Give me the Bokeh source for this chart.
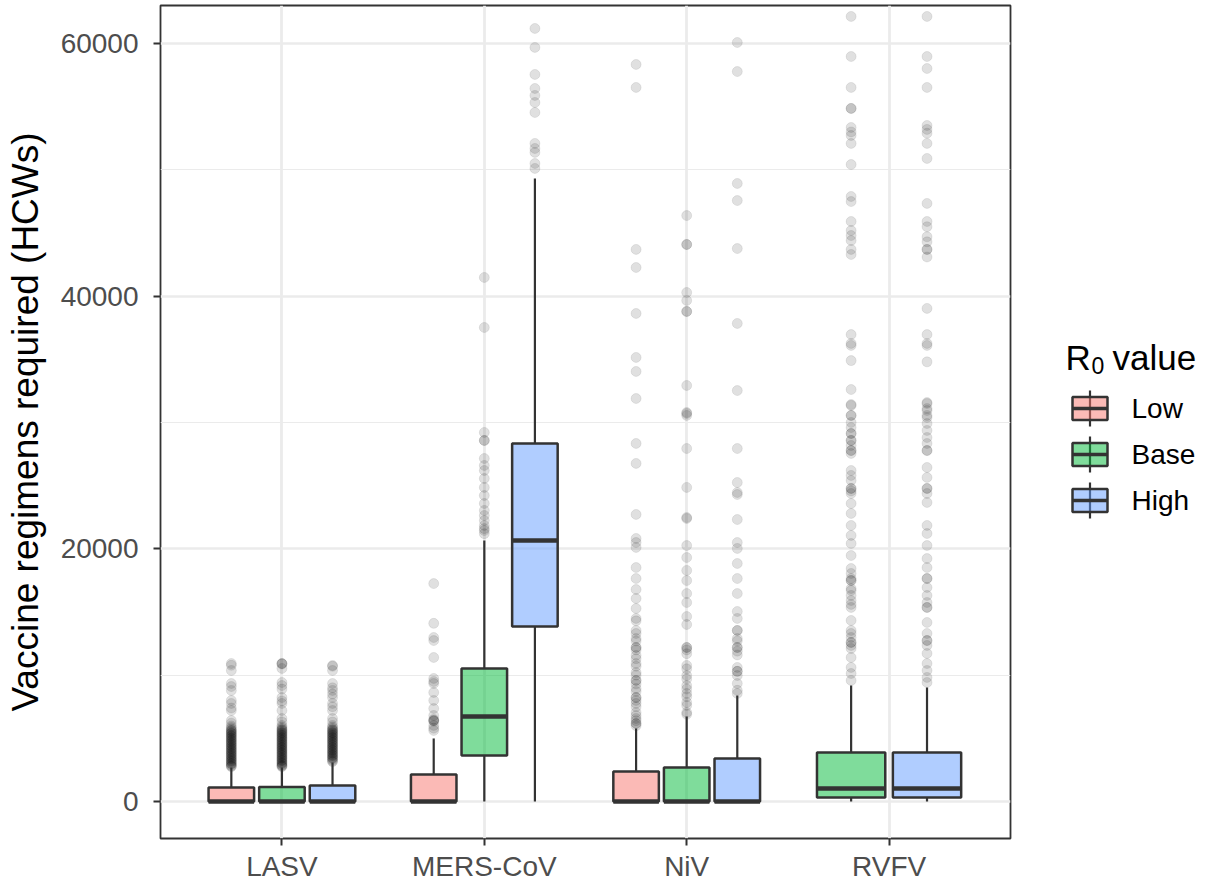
from bokeh.plotting import figure
from bokeh.models import Range1d, FixedTicker, ColumnDataSource
from bokeh.layouts import row
from bokeh.embed import file_html
from bokeh.resources import INLINE
from bokeh.core.properties import value

# ---------------- data ----------------
categories = ["LASV", "MERS-CoV", "NiV", "RVFV"]
groups = ["Low", "Base", "High"]
y_ticks = [0, 20000, 40000, 60000]
y_minor_ticks = [10000, 30000, 50000]
y_title = "Vaccine regimens required (HCWs)"
legend_title_main = "R"
legend_title_sub = "0"
legend_title_rest = "value"

# box statistics, one entry per category (None = group not present)
low_lower = [0, 0, 0, None]
low_q1 = [0, 0, 0, None]
low_median = [0, 0, 0, None]
low_q3 = [1110, 2140, 2380, None]
low_upper = [2690, 4990, 5780, None]

base_lower = [0, 0, 0, 0]
base_q1 = [0, 3640, 0, 320]
base_median = [0, 6730, 0, 1030]
base_q3 = [1150, 10530, 2690, 3880]
base_upper = [2700, 20660, 6730, 9180]

high_lower = [0, 0, 0, 0]
high_q1 = [0, 13850, 0, 320]
high_median = [0, 20660, 0, 1030]
high_q3 = [1270, 28340, 3400, 3880]
high_upper = [3090, 49320, 8390, 9020]

low_outliers = [
    [10920, 10780, 10370, 9340, 9100, 8790, 8000, 7760, 7400, 7200, 6410, 6200, 5980, 5860,
     5750, 5650, 5550, 5450, 5350, 5250, 5150, 5050, 4950, 4850, 4750, 4650, 4550, 4450,
     4350, 4250, 4150, 4050, 3950, 3850, 3750, 3650, 3550, 3450, 3350, 3250, 3150, 3050,
     2950, 2850, 2750, 5600, 5400, 5200, 5000, 4800, 4600, 4400, 4200, 4000, 3800, 3600,
     3400, 3200, 3000, 2800],
    [17250, 14100, 12980, 12740, 11400, 9740, 9500, 9340, 8630, 8000, 7360, 6810, 6500,
     6410, 6410, 6350, 6020, 5800, 5620],
    [58340, 56520, 43700, 42270, 38630, 35150, 34040, 31900, 28340, 26760, 22720, 20820,
     20500, 20110, 18520, 17650, 16780, 16070, 15280, 14490, 14300, 13540, 13300, 12900,
     12700, 12190, 12190, 12000, 11560, 11300, 10920, 10700, 10210, 10000, 9580, 9580, 9300,
     8940, 8700, 8230, 8230, 8000, 7760, 7500, 7050, 6800, 6570, 6400, 6170, 6170, 6000],
    [],
]
base_outliers = [
    [10920, 10920, 10880, 10530, 9420, 9180, 8900, 8230, 7960, 7760, 7200, 6570, 6300, 6020,
     5900, 5800, 5700, 5600, 5500, 5400, 5300, 5200, 5100, 5000, 4900, 4800, 4700, 4600,
     4500, 4400, 4300, 4200, 4100, 4000, 3900, 3800, 3700, 3600, 3500, 3400, 3300, 3200,
     3100, 3000, 2900, 2800, 2750, 5650, 5450, 5250, 5050, 4850, 4650, 4450, 4250, 4050,
     3850, 3650, 3450, 3250, 3050, 2850],
    [41480, 37520, 29210, 28580, 28580, 27150, 26600, 26200, 25570, 24860, 24220, 23590,
     23040, 22640, 22240, 21850, 21600, 21450, 21200],
    [46380, 44090, 44090, 40290, 39660, 38790, 38790, 32930, 30790, 30710, 30560, 27940,
     24860, 22480, 22400, 20260, 19310, 18290, 17490, 16460, 15750, 14640, 14010, 12190,
     12190, 12000, 11700, 10770, 10500, 9970, 9700, 9180, 8900, 8550, 8300, 7840, 7600,
     7050, 6900],
    [62140, 58970, 56520, 54860, 54860, 53350, 53000, 52720, 52090, 50420, 47890, 47490,
     45910, 45200, 44800, 44400, 43700, 43300, 36960, 36260, 36100, 34900, 32610, 31420,
     31350, 30560, 30560, 30000, 29600, 29130, 29130, 28580, 28580, 28180, 27780, 27780,
     27550, 26200, 25810, 25410, 24780, 24780, 24580, 24380, 23590, 22800, 21850, 21060,
     20420, 19470, 18440, 18050, 17650, 17490, 17490, 16860, 16700, 16310, 15910, 15600,
     15360, 14330, 13540, 13300, 12980, 12590, 12590, 12350, 12110, 11400, 10610, 10130,
     9580],
]
high_outliers = [
    [10770, 10700, 10370, 9340, 9000, 8790, 8500, 8230, 7760, 7500, 7200, 6570, 6300, 6020,
     5900, 5800, 5700, 5600, 5500, 5400, 5300, 5200, 5100, 5000, 4900, 4800, 4700, 4600,
     4500, 4400, 4300, 4200, 4100, 4000, 3900, 3800, 3700, 3600, 3500, 3400, 3300, 3200,
     3150, 5650, 5450, 5250, 5050, 4850, 4650, 4450, 4250, 4050, 3850, 3650, 3450],
    [61190, 59690, 57550, 56440, 55890, 55330, 54540, 52090, 51690, 51380, 50500, 50110],
    [60080, 57780, 48920, 47570, 43770, 37840, 32530, 27940, 25250, 24460, 24300, 22320,
     20500, 20030, 18840, 17650, 16460, 15040, 14490, 13540, 13540, 12900, 12700, 12190,
     12190, 11900, 11600, 10610, 10300, 10300, 9970, 9340, 8800, 8550],
    [62140, 58970, 58020, 56520, 53510, 53200, 52900, 52090, 50900, 47340, 45910, 45500,
     44700, 44300, 43700, 43700, 43100, 39030, 36960, 36260, 36100, 34800, 31580, 31500,
     31100, 30950, 30560, 30400, 29920, 29370, 28810, 28340, 27780, 27780, 26440, 25650,
     24780, 24780, 24380, 23670, 21850, 21210, 20260, 19230, 18520, 17650, 17650, 16940,
     16310, 15750, 15360, 15360, 14170, 13300, 12740, 12740, 12350, 11720, 10920, 10370,
     9820, 9420],
]

stats = [
    dict(lower=low_lower, q1=low_q1, med=low_median, q3=low_q3, upper=low_upper, out=low_outliers),
    dict(lower=base_lower, q1=base_q1, med=base_median, q3=base_q3, upper=base_upper, out=base_outliers),
    dict(lower=high_lower, q1=high_q1, med=high_median, q3=high_q3, upper=high_upper, out=high_outliers),
]
group_colors = ["#F8766D", "#00BA38", "#619CFF"]

# ---------------- styles ----------------
FONT_NAME = "Liberation Sans"
FONT = value(FONT_NAME)
DARK = "#333333"
GRID = "#EBEBEB"
DODGE = 0.75
PAD = 0.1
FRAME_TOP, FRAME_BOTTOM = 5, 838

# ---------------- main plot ----------------
p = figure(width=1012, height=888,
           x_range=Range1d(0.4, 4.6), y_range=Range1d(-2929, 63008),
           output_backend="svg", toolbar_location=None,
           min_border_left=160, min_border_right=2, min_border_top=FRAME_TOP,
           min_border_bottom=888 - FRAME_BOTTOM)
p.background_fill_color = "white"
p.border_fill_color = "white"
p.outline_line_color = DARK
p.outline_line_width = 1.8

ox, oy = [], []
box = dict(left=[], right=[], top=[], bottom=[], fill=[])
meds = dict(x0=[], x1=[], y=[])
whisk = dict(x=[], y0=[], y1=[])
for i in range(len(categories)):
    present = [k for k in range(len(groups)) if stats[k]["q3"][i] is not None]
    n = len(present)
    slot = DODGE / n
    for j, k in enumerate(present):
        s = stats[k]
        xc = (i + 1) - DODGE / 2 + slot * (j + 0.5)
        half = slot * (1 - PAD) / 2
        box["left"].append(xc - half)
        box["right"].append(xc + half)
        box["top"].append(s["q3"][i])
        box["bottom"].append(s["q1"][i])
        box["fill"].append(group_colors[k])
        meds["x0"].append(xc - half)
        meds["x1"].append(xc + half)
        meds["y"].append(s["med"][i])
        whisk["x"] += [xc, xc]
        whisk["y0"] += [s["q3"][i], s["q1"][i]]
        whisk["y1"] += [s["upper"][i], s["lower"][i]]
        for v in s["out"][i]:
            ox.append(xc)
            oy.append(v)

p.scatter(x=ox, y=oy, size=10, marker="circle",
          fill_color="black", fill_alpha=0.12, line_color="black", line_alpha=0.08, line_width=1)
p.segment(x0="x", y0="y0", x1="x", y1="y1", source=ColumnDataSource(whisk),
          line_color=DARK, line_width=2.2)
p.quad(left="left", right="right", top="top", bottom="bottom",
       source=ColumnDataSource(box), fill_color="fill", fill_alpha=0.5,
       line_color=DARK, line_width=2.5)
p.segment(x0="x0", y0="y", x1="x1", y1="y", source=ColumnDataSource(meds),
          line_color=DARK, line_width=4.5)

p.xaxis.ticker = FixedTicker(ticks=list(range(1, len(categories) + 1)))
p.xaxis.major_label_overrides = {i + 1: c for i, c in enumerate(categories)}
p.yaxis.ticker = FixedTicker(ticks=y_ticks, minor_ticks=y_minor_ticks)
p.yaxis.major_label_overrides = {t: str(t) for t in y_ticks}
for ax in p.axis:
    ax.axis_line_color = None
    ax.major_tick_line_color = DARK
    ax.major_tick_line_width = 2
    ax.major_tick_out = 7
    ax.major_tick_in = 0
    ax.minor_tick_line_color = None
    ax.major_label_text_font = FONT_NAME
    ax.major_label_text_font_size = "28px"
    ax.major_label_text_color = "#4D4D4D"
p.xaxis.major_label_standoff = 5
p.yaxis.major_label_standoff = 15
p.yaxis.axis_label = y_title
p.yaxis.axis_label_text_font = FONT_NAME
p.yaxis.axis_label_text_font_size = "37px"
p.yaxis.axis_label_text_font_style = "normal"
p.yaxis.axis_label_text_color = "black"
p.yaxis.axis_label_standoff = 12

p.xgrid.grid_line_color = GRID
p.xgrid.grid_line_width = 2.8
p.ygrid.grid_line_color = GRID
p.ygrid.grid_line_width = 2.5
p.ygrid.minor_grid_line_color = GRID
p.ygrid.minor_grid_line_width = 1.2

# ---------------- legend panel ----------------
# the row layout aligns this panel's frame with the main frame (FRAME_TOP..FRAME_BOTTOM),
# so the y range is set to those pixel rows for a 1:1 mapping
leg = figure(width=202, height=888, x_range=Range1d(0, 202),
             y_range=Range1d(FRAME_BOTTOM, FRAME_TOP),
             output_backend="svg", toolbar_location=None, min_border=0,
             x_axis_type=None, y_axis_type=None)
leg.outline_line_color = None
leg.background_fill_color = "white"
leg.border_fill_color = "white"
for g in leg.grid:
    g.visible = False

key_y0, key_step = 408, 46
key_left, key_right, key_half_h, key_stem = 60, 95, 11.5, 18
kx = (key_left + key_right) / 2
ky = [key_y0 + key_step * k for k in range(len(groups))]
title_x, title_base = 53, 357

leg.text(x=[title_x], y=[title_base], text=[legend_title_main], text_font=FONT,
         text_font_size="35px", text_color="black", text_baseline="alphabetic", text_align="left")
leg.text(x=[title_x + 26], y=[title_base + 8], text=[legend_title_sub], text_font=FONT,
         text_font_size="23px", text_color="black", text_baseline="alphabetic", text_align="left")
leg.text(x=[title_x + 47], y=[title_base], text=[legend_title_rest], text_font=FONT,
         text_font_size="35px", text_color="black", text_baseline="alphabetic", text_align="left")
leg.segment(x0=[kx] * 3, x1=[kx] * 3, y0=[c - key_stem for c in ky], y1=[c + key_stem for c in ky],
            line_color=DARK, line_width=2.2)
leg.quad(left=[key_left] * 3, right=[key_right] * 3,
         top=[c - key_half_h for c in ky], bottom=[c + key_half_h for c in ky],
         fill_color=group_colors, fill_alpha=0.5, line_color=DARK, line_width=2.5)
leg.segment(x0=[key_left] * 3, x1=[key_right] * 3, y0=ky, y1=ky, line_color=DARK, line_width=3.5)
leg.text(x=[119] * 3, y=ky, text=groups, text_font=FONT, text_font_size="28px",
         text_color="black", text_baseline="middle", text_align="left")

layout = row(p, leg)
open("out.html", "w").write(file_html(layout, INLINE))
